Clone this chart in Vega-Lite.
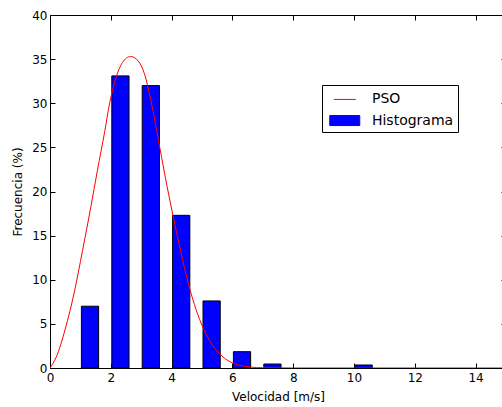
{
  "$schema": "https://vega.github.io/schema/vega-lite/v6.json",
  "width": 452,
  "height": 353,
  "autosize": {"type": "none"},
  "padding": {"left": 50, "top": 15, "right": 0, "bottom": 39},
  "background": "white",
  "config": {
    "font": "DejaVu Sans",
    "view": {"stroke": null},
    "axis": {
      "domain": true,
      "domainColor": "black",
      "domainWidth": 1,
      "grid": false,
      "tickSize": -5,
      "tickColor": "black",
      "labelFlush": false,
      "labelOverlap": false,
      "labelFont": "DejaVu Sans",
      "labelFontSize": 12,
      "labelColor": "black",
      "titleFont": "DejaVu Sans",
      "titleFontSize": 12,
      "titleFontWeight": "normal",
      "titleColor": "black"
    }
  },
  "layer": [
    {
      "data": {
        "values": [
          {"inicio": 1, "fin": 1.6, "frecuencia": 7.0, "serie": "Histograma"},
          {"inicio": 2, "fin": 2.6, "frecuencia": 33.1, "serie": "Histograma"},
          {"inicio": 3, "fin": 3.6, "frecuencia": 32.0, "serie": "Histograma"},
          {"inicio": 4, "fin": 4.6, "frecuencia": 17.3, "serie": "Histograma"},
          {"inicio": 5, "fin": 5.6, "frecuencia": 7.6, "serie": "Histograma"},
          {"inicio": 6, "fin": 6.6, "frecuencia": 1.85, "serie": "Histograma"},
          {"inicio": 7, "fin": 7.6, "frecuencia": 0.45, "serie": "Histograma"},
          {"inicio": 10, "fin": 10.6, "frecuencia": 0.34, "serie": "Histograma"}
        ]
      },
      "mark": {"type": "bar", "stroke": "black", "strokeWidth": 1, "opacity": 1},
      "encoding": {
        "x": {
          "field": "inicio",
          "type": "quantitative",
          "bin": {"binned": true},
          "scale": {"domain": [0, 15], "nice": false, "zero": false, "range": [0, 456]},
          "axis": {"orient": "bottom", "values": [0, 2, 4, 6, 8, 10, 12, 14], "title": "Velocidad [m/s]", "labelPadding": 9, "titlePadding": 8}
        },
        "x2": {"field": "fin"},
        "y": {
          "field": "frecuencia",
          "type": "quantitative",
          "scale": {"domain": [0, 40], "nice": false},
          "axis": {"orient": "left", "values": [0, 5, 10, 15, 20, 25, 30, 35, 40], "title": "Frecuencia (%)", "labelPadding": 8, "titlePadding": 7}
        },
        "color": {
          "field": "serie",
          "type": "nominal",
          "scale": {"domain": ["PSO", "Histograma"], "range": ["red", "blue"]},
          "legend": {
            "title": null,
            "orient": "none",
            "legendX": 272,
            "legendY": 70,
            "padding": 3.95,
            "strokeColor": "black",
            "fillColor": "white",
            "symbolSize": 400,
            "labelFont": "DejaVu Sans",
            "labelFontSize": 14,
            "labelColor": "black",
            "labelOffset": 25,
            "rowPadding": 3.1,
            "encoding": {
              "symbols": {
                "shape": {"value": {"expr": "datum.value === 'PSO' ? 'M-0.27,0H1.93' : 'M-0.67,-0.5H2.33V0.5H-0.67Z'"}},
                "fill": {"value": {"expr": "datum.value === 'PSO' ? 'transparent' : 'blue'"}},
                "stroke": {"value": {"expr": "datum.value === 'PSO' ? 'red' : 'black'"}},
                "strokeWidth": {"value": 1},
                "opacity": {"value": 1},
                "fillOpacity": {"value": 1},
                "strokeOpacity": {"value": 1}
              }
            }
          }
        }
      }
    },
    {
      "data": {
        "values": [
          {"velocidad": 0, "pdf": 0, "serie": "PSO"},
          {"velocidad": 0.2, "pdf": 1.2, "serie": "PSO"},
          {"velocidad": 0.5, "pdf": 4.4, "serie": "PSO"},
          {"velocidad": 0.8, "pdf": 8.6, "serie": "PSO"},
          {"velocidad": 1.07, "pdf": 13.3, "serie": "PSO"},
          {"velocidad": 1.33, "pdf": 18.0, "serie": "PSO"},
          {"velocidad": 1.56, "pdf": 22.4, "serie": "PSO"},
          {"velocidad": 1.8, "pdf": 26.8, "serie": "PSO"},
          {"velocidad": 1.95, "pdf": 29.8, "serie": "PSO"},
          {"velocidad": 2.17, "pdf": 32.9, "serie": "PSO"},
          {"velocidad": 2.38, "pdf": 34.6, "serie": "PSO"},
          {"velocidad": 2.65, "pdf": 35.3, "serie": "PSO"},
          {"velocidad": 2.9, "pdf": 34.8, "serie": "PSO"},
          {"velocidad": 3.1, "pdf": 33.4, "serie": "PSO"},
          {"velocidad": 3.32, "pdf": 30.3, "serie": "PSO"},
          {"velocidad": 3.61, "pdf": 25.0, "serie": "PSO"},
          {"velocidad": 3.85, "pdf": 20.6, "serie": "PSO"},
          {"velocidad": 4.05, "pdf": 17.2, "serie": "PSO"},
          {"velocidad": 4.3, "pdf": 13.2, "serie": "PSO"},
          {"velocidad": 4.54, "pdf": 9.7, "serie": "PSO"},
          {"velocidad": 4.75, "pdf": 7.2, "serie": "PSO"},
          {"velocidad": 4.98, "pdf": 5.0, "serie": "PSO"},
          {"velocidad": 5.25, "pdf": 3.1, "serie": "PSO"},
          {"velocidad": 5.58, "pdf": 1.6, "serie": "PSO"},
          {"velocidad": 5.9, "pdf": 0.75, "serie": "PSO"},
          {"velocidad": 6.24, "pdf": 0.3, "serie": "PSO"},
          {"velocidad": 6.6, "pdf": 0.1, "serie": "PSO"},
          {"velocidad": 7.0, "pdf": 0.03, "serie": "PSO"},
          {"velocidad": 8.0, "pdf": 0.0, "serie": "PSO"},
          {"velocidad": 15.0, "pdf": 0.0, "serie": "PSO"}
        ]
      },
      "mark": {"type": "line", "strokeWidth": 1, "interpolate": "monotone", "clip": true},
      "encoding": {
        "x": {
          "field": "velocidad",
          "type": "quantitative",
          "axis": {"orient": "top", "labels": false, "title": null, "values": [0, 2, 4, 6, 8, 10, 12, 14]}
        },
        "y": {
          "field": "pdf",
          "type": "quantitative",
          "axis": {"orient": "right", "labels": false, "title": null, "values": [0, 5, 10, 15, 20, 25, 30, 35, 40], "offset": 4}
        },
        "color": {"field": "serie", "type": "nominal"}
      }
    }
  ],
  "resolve": {"axis": {"x": "independent", "y": "independent"}}
}
